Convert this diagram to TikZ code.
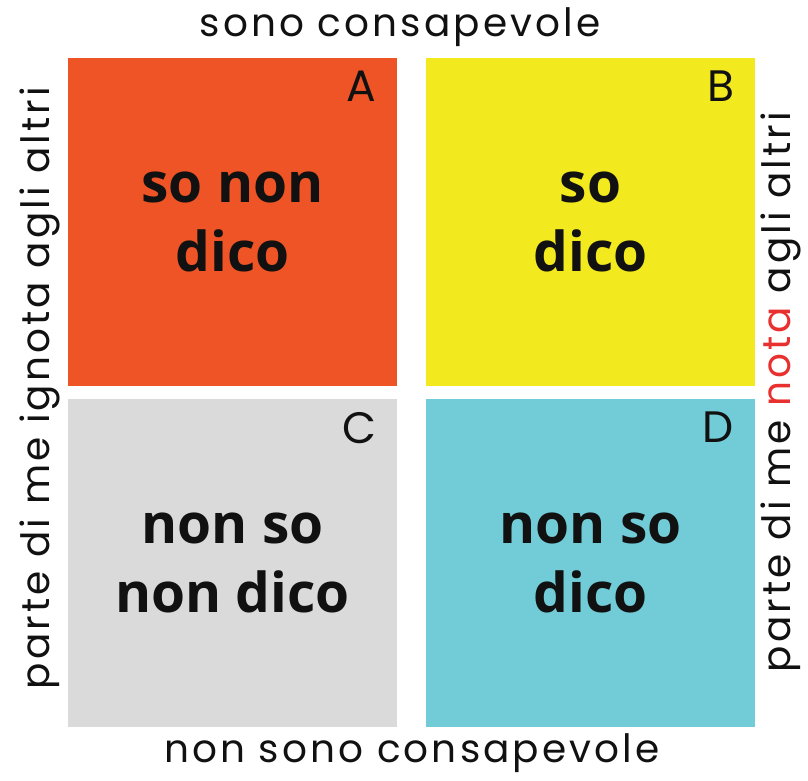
\documentclass[tikz,border=0pt]{standalone}
\usepackage{fontspec}
\usepackage{xcolor}
\usepackage{tikz}
\usetikzlibrary{positioning}
\newfontfamily\thinfont[LetterSpace=8]{Poppins}
\newfontfamily\boldfont{Open Sans}[BoldFont=* Bold]
\definecolor{cOrange}{HTML}{EE5425}
\definecolor{cYellow}{HTML}{F2EA1F}
\definecolor{cGrey}{HTML}{DADADA}
\definecolor{cCyan}{HTML}{71CCD7}
\definecolor{cRed}{HTML}{E8302E}
\definecolor{cInk}{HTML}{111111}
\tikzset{
  quad/.style   = {minimum width=329pt, minimum height=328pt, inner sep=0pt,
                   align=center, text=cInk,
                   font=\boldfont\bfseries\fontsize{55}{69}\selectfont},
  corner/.style = {anchor=north east, inner sep=0pt, text=cInk,
                   font=\thinfont\fontsize{44}{44}\selectfont},
  axis/.style   = {inner sep=0pt, text=cInk,
                   font=\thinfont\fontsize{39}{39}\selectfont},
}
\begin{document}
\begin{tikzpicture}[x=1pt, y=-1pt]
  \useasboundingbox (0,0) rectangle (808,780);
  % ---- the four quadrants ----
  \node[quad, fill=cOrange] (a) at (232.5,222) {so non\\ dico};
  \node[quad, fill=cYellow] (b) at (590.5,222) {so\\ dico};
  \node[quad, fill=cGrey]   (c) at (232.5,563) {non so\\ non dico};
  \node[quad, fill=cCyan]   (d) at (590.5,563) {non so\\ dico};
  % letters in the top right corners
  \node[corner] (la) at ([xshift=-21pt, yshift=-13pt]a.north east) {A};
  \node[corner] (lb) at ([xshift=-21pt, yshift=-13pt]b.north east) {B};
  \node[corner] (lc) at ([xshift=-21pt, yshift=-13pt]c.north east) {C};
  \node[corner] (ld) at ([xshift=-21pt, yshift=-13pt]d.north east) {D};
  % ---- axis labels ----
  \node[axis] (top) at (400,27) {sono consapevole};
  \node[axis] (bot) at (412,753) {non sono consapevole};
  \node[axis, rotate=90] (lft) at (40,388) {parte di me ignota agli altri};
  \node[axis, rotate=90] (rgt) at (781,392)
    {parte di me \textcolor{cRed}{nota} agli altri};
\end{tikzpicture}
\end{document}
